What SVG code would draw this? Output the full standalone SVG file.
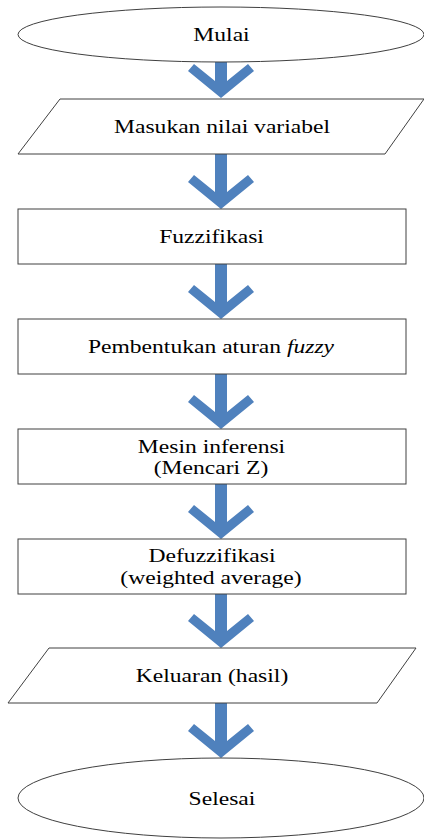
<svg xmlns="http://www.w3.org/2000/svg" width="424" height="839" viewBox="0 0 424 839">
<style>
.shape{fill:#ffffff;stroke:#404040;stroke-width:1}
.arrow{fill:#4F81BD;stroke:none}
.t{font-family:'Liberation Serif','Times New Roman',serif;font-size:18px;fill:#000000;text-anchor:middle}
</style>
<rect width="424" height="839" fill="#ffffff"/>
<g id="connectors">
<polygon class="arrow" points="215,62 227,62 227,81 248,64 254,71 221,98 188,71 194,64 215,81"/>
<polygon class="arrow" points="215,154 227,154 227,192 248,175 254,182 221,209 188,182 194,175 215,192"/>
<polygon class="arrow" points="215,264 227,264 227,302 248,285 254,292 221,319 188,292 194,285 215,302"/>
<polygon class="arrow" points="215,374 227,374 227,412 248,395 254,402 221,429 188,402 194,395 215,412"/>
<polygon class="arrow" points="215,484 227,484 227,522 248,505 254,512 221,539 188,512 194,505 215,522"/>
<polygon class="arrow" points="215,594 227,594 227,631 248,614 254,621 221,648 188,621 194,614 215,631"/>
<polygon class="arrow" points="215,703 227,703 227,741 248,724 254,731 221,758 188,731 194,724 215,741"/>
</g>
<g id="mulai">
<ellipse class="shape" cx="221" cy="34.5" rx="203" ry="27.5"/>
<text class="t" transform="translate(221.5,41) scale(1.31,1)">Mulai</text>
</g>
<g id="masukan">
<polygon class="shape" points="60,99 424,99 385,154 18,154"/>
<text class="t" transform="translate(222,133) scale(1.31,1)">Masukan nilai variabel</text>
</g>
<g id="fuzzifikasi">
<rect class="shape" x="18" y="209" width="388" height="55"/>
<text class="t" transform="translate(211.5,243) scale(1.31,1)">Fuzzifikasi</text>
</g>
<g id="pembentukan">
<rect class="shape" x="18" y="319" width="388" height="55"/>
<text class="t" transform="translate(211,353) scale(1.31,1)">Pembentukan aturan <tspan font-style="italic">fuzzy</tspan></text>
</g>
<g id="mesin">
<rect class="shape" x="18" y="429" width="388" height="55"/>
<text class="t" transform="translate(211.5,452.5) scale(1.31,1)">Mesin inferensi</text>
<text class="t" transform="translate(211,474) scale(1.31,1)">(Mencari Z)</text>
</g>
<g id="defuzzifikasi">
<rect class="shape" x="18" y="539" width="388" height="55"/>
<text class="t" transform="translate(212,561.5) scale(1.31,1)">Defuzzifikasi</text>
<text class="t" transform="translate(211,583.5) scale(1.31,1)">(weighted average)</text>
</g>
<g id="keluaran">
<polygon class="shape" points="49,648 416,648 377,703 8,703"/>
<text class="t" transform="translate(212,682) scale(1.31,1)">Keluaran (hasil)</text>
</g>
<g id="selesai">
<ellipse class="shape" cx="221" cy="798" rx="203" ry="40"/>
<text class="t" transform="translate(222,805) scale(1.31,1)">Selesai</text>
</g>
</svg>
